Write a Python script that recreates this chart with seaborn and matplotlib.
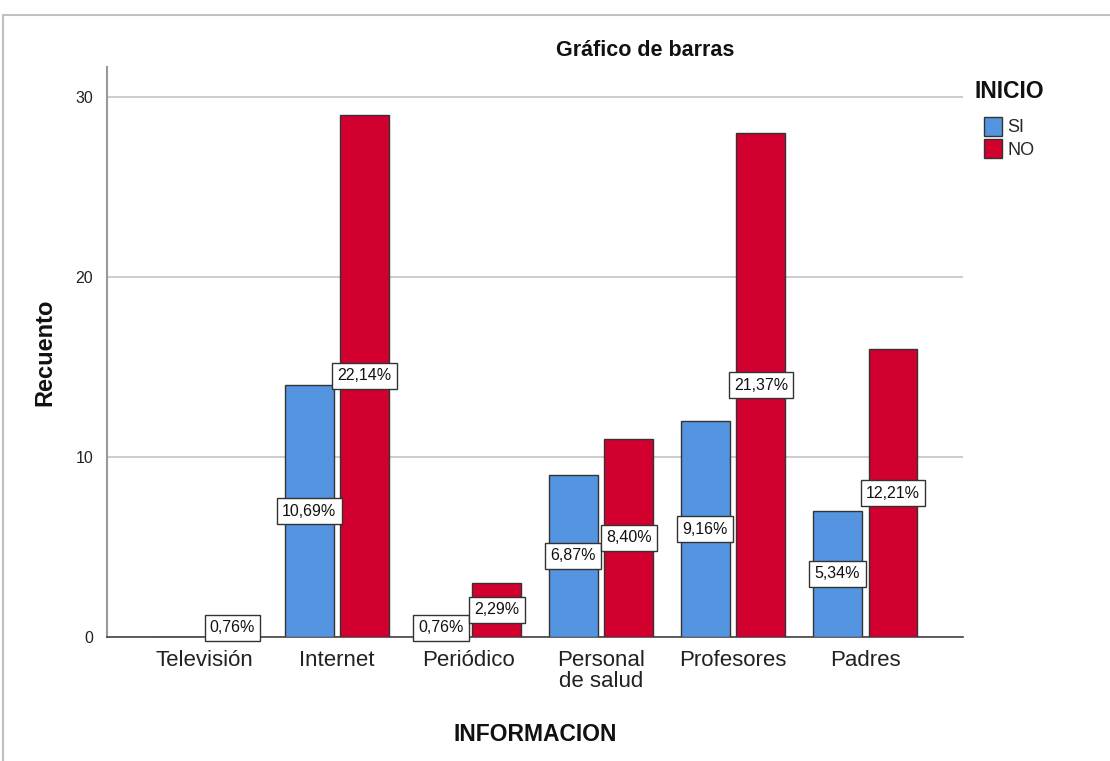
import matplotlib
matplotlib.use("Agg")
import matplotlib.pyplot as plt
import matplotlib.patches as mpatches
import seaborn as sns
import pandas as pd

categories = ["Televisión", "Internet", "Periódico", "Personal\nde salud", "Profesores", "Padres"]
si_counts = [0, 14, 1, 9, 12, 7]
no_counts = [1, 29, 3, 11, 28, 16]
hue_levels = ["SI", "NO"]
colors = {"SI": "#5594E0", "NO": "#D2002E"}
yticks = [0, 10, 20, 30]

rows = []
for c, s, n in zip(categories, si_counts, no_counts):
    rows.append({"INFORMACION": c, "INICIO": "SI", "Recuento": s})
    rows.append({"INFORMACION": c, "INICIO": "NO", "Recuento": n})
df = pd.DataFrame(rows)
total = sum(si_counts) + sum(no_counts)

sns.set_theme(style="white")
plt.rcParams["font.family"] = ["Liberation Sans", "DejaVu Sans"]

fig = plt.figure(figsize=(11.10, 7.61), dpi=100)
W, H = 1110, 761
ax = fig.add_axes([107 / W, 1 - 637 / H, (963 - 107) / W, (637 - 67) / H])

sns.barplot(data=df, x="INFORMACION", y="Recuento", hue="INICIO", hue_order=hue_levels,
            order=categories, palette=colors, saturation=1, width=0.84, gap=0.12,
            edgecolor="#333333", linewidth=1.0, ax=ax, zorder=3, errorbar=None)

ax.set_xlim(-0.74, 5.74)
ax.set_ylim(0, (637 - 67) / 18.0)
ax.set_yticks(yticks)
ax.yaxis.grid(True, color="#c8c8c8", linewidth=1.3, zorder=0)
ax.xaxis.grid(False)
ax.set_axisbelow(True)
for side in ["top", "right"]:
    ax.spines[side].set_visible(False)
ax.spines["left"].set_color("#999999")
ax.spines["left"].set_linewidth(1.5)
ax.spines["bottom"].set_color("#444444")
ax.spines["bottom"].set_linewidth(1.2)
ax.tick_params(axis="y", length=0, pad=10, labelsize=11.5, labelcolor="#222222")
ax.tick_params(axis="x", length=0, pad=9, labelsize=16, labelcolor="#222222")
for lab in ax.get_xticklabels():
    lab.set_linespacing(1.05)

ax.set_xlabel("INFORMACION", fontsize=16.5, fontweight="bold", labelpad=22, color="#111111")
ax.set_ylabel("Recuento", fontsize=17, fontweight="bold", labelpad=14, color="#111111")

for cont in ax.containers:
    for bar in cont:
        h = bar.get_height()
        if h > 0:
            pct = f"{h / total * 100:.2f}".replace(".", ",") + "%"
            ax.text(bar.get_x() + bar.get_width() / 2, h / 2, pct, ha="center", va="center",
                    fontsize=11.5, color="#111111", zorder=5,
                    bbox=dict(boxstyle="square,pad=0.33", facecolor="white",
                              edgecolor="#333333", linewidth=1.0))

leg = ax.get_legend()
if leg is not None:
    leg.remove()

fig.text(975 / W, 1 - 91 / H, "INICIO", ha="left", va="center",
         fontsize=16.5, fontweight="bold", color="#111111")
handles = [mpatches.Patch(facecolor=colors[k], edgecolor="#333333", linewidth=1.0, label=k)
           for k in hue_levels]
lg = fig.legend(handles=handles, loc="upper left",
                bbox_to_anchor=(980 / W, 1 - 113 / H), frameon=False,
                fontsize=13, handlelength=1.0, handleheight=1.25, handletextpad=0.3,
                labelspacing=0.15, borderpad=0.2, borderaxespad=0)

fig.text(645 / W, 1 - 50 / H, "Gráfico de barras", ha="center", va="center",
         fontsize=15.5, fontweight="bold", color="#111111")

fig.patches.append(mpatches.Rectangle((3 / W, -0.1), 1.2, 1 - 15 / H + 0.1,
                                      transform=fig.transFigure, fill=False,
                                      edgecolor="#c0c0c0", linewidth=1.5))

fig.savefig("out.png", dpi=100)
